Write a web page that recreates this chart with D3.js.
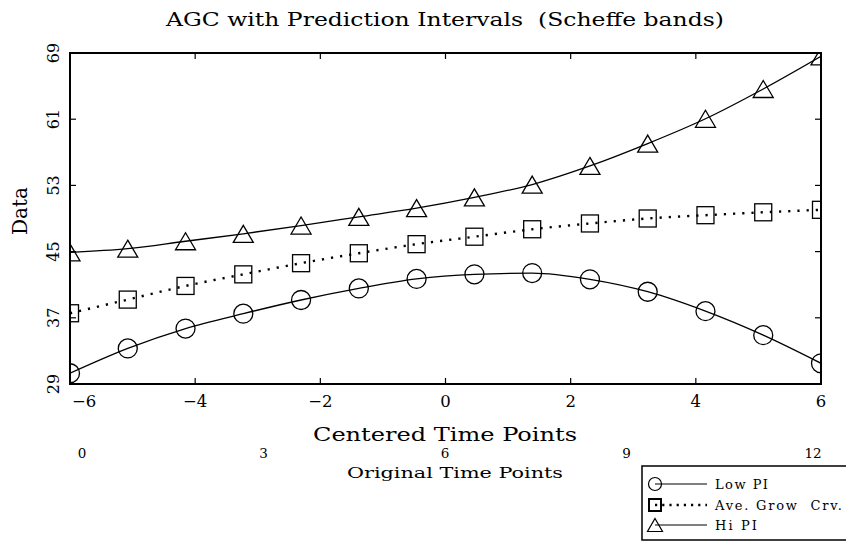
<!DOCTYPE html>
<html>
  <head>
    <script src="https://d3js.org/d3.v7.min.js"></script>
    <style>
      body { margin: 0; background: #fff; }
      text { font-family: "DejaVu Serif", serif; fill: #000; white-space: pre; }
    </style>
  </head>
  <body>
    <svg id="chart" width="846" height="543"></svg>
    <script>
      // centered time points (14 samples across -6..6)
      const centeredX = [-6, -5.077, -4.154, -3.231, -2.308, -1.385, -0.462, 0.462, 1.385, 2.308, 3.231, 4.154, 5.077, 6];
      const lowPI = [30.3, 33.3, 35.7, 37.5, 39.15, 40.55, 41.7, 42.25, 42.4, 41.65, 40.15, 37.8, 34.9, 31.5];
      const aveGrow = [37.55, 39.2, 40.85, 42.25, 43.6, 44.8, 45.9, 46.8, 47.7, 48.4, 49.0, 49.4, 49.75, 50.05];
      const hiPI = [44.9, 45.35, 46.25, 47.15, 48.15, 49.2, 50.25, 51.55, 53.1, 55.35, 58.05, 61.05, 64.65, 68.6];
      const xTicks = [-6, -4, -2, 0, 2, 4, 6];
      const yTicks = [29, 37, 45, 53, 61, 69];
      const origTicks = [0, 3, 6, 9, 12];
      const legendLabels = ["Low PI", "Ave. Grow  Crv.", "Hi PI"];

      const svg = d3.select("#chart");
      const pLeft = 70, pRight = 821, pTop = 53, pBottom = 384;

      const x = d3.scaleLinear().domain([-6, 6]).range([pLeft, pRight]);
      const y = d3.scaleLinear().domain([29, 69]).range([pBottom, pTop]);
      const xOrig = d3.scaleLinear().domain([0, 12]).range([82, 808]);

      svg.append("defs").append("clipPath").attr("id", "plotclip")
        .append("rect")
        .attr("x", pLeft).attr("y", pTop)
        .attr("width", pRight - pLeft).attr("height", pBottom - pTop);

      // title
      svg.append("text")
        .attr("x", 445).attr("y", 26)
        .attr("text-anchor", "middle")
        .attr("font-size", 19)
        .attr("textLength", 558)
        .attr("lengthAdjust", "spacingAndGlyphs")
        .text("AGC with Prediction Intervals  (Scheffe bands)");

      // ticks on all four sides, pointing inward
      const tickLen = 6;
      const ticks = svg.append("g").attr("stroke", "#000").attr("stroke-width", 1.2);
      xTicks.forEach(t => {
        ticks.append("line").attr("x1", x(t)).attr("x2", x(t)).attr("y1", pBottom).attr("y2", pBottom - tickLen);
        ticks.append("line").attr("x1", x(t)).attr("x2", x(t)).attr("y1", pTop).attr("y2", pTop + tickLen);
      });
      yTicks.forEach(t => {
        ticks.append("line").attr("x1", pLeft).attr("x2", pLeft + tickLen).attr("y1", y(t)).attr("y2", y(t));
        ticks.append("line").attr("x1", pRight).attr("x2", pRight - tickLen).attr("y1", y(t)).attr("y2", y(t));
      });

      // x tick labels
      svg.append("g").selectAll("text").data(xTicks).join("text")
        .attr("x", (d, i) => i == 0 ? x(d) + 2 : x(d))
        .attr("y", 407)
        .attr("text-anchor", (d, i) => i == 0 ? "start" : "middle")
        .attr("font-size", 16.5)
        .text(d => d < 0 ? "\u2212" + Math.abs(d) : d);

      // y tick labels, rotated
      svg.append("g").selectAll("text").data(yTicks).join("text")
        .attr("transform", d => `translate(59,${y(d)}) rotate(-90)`)
        .attr("text-anchor", "middle")
        .attr("font-size", 16)
        .text(d => d);

      svg.append("text")
        .attr("transform", "translate(27,211) rotate(-90)")
        .attr("text-anchor", "middle")
        .attr("font-size", 20)
        .text("Data");

      svg.append("text")
        .attr("x", 445).attr("y", 441)
        .attr("text-anchor", "middle")
        .attr("font-size", 18.5)
        .attr("textLength", 264)
        .attr("lengthAdjust", "spacingAndGlyphs")
        .text("Centered Time Points");

      svg.append("g").selectAll("text").data(origTicks).join("text")
        .attr("x", (d, i) => i == origTicks.length - 1 ? xOrig(d) + 5 : xOrig(d))
        .attr("y", 458)
        .attr("text-anchor", "middle")
        .attr("font-size", 13.5)
        .text(d => d);

      svg.append("text")
        .attr("x", 455).attr("y", 478)
        .attr("text-anchor", "middle")
        .attr("font-size", 15)
        .attr("textLength", 216)
        .attr("lengthAdjust", "spacingAndGlyphs")
        .text("Original Time Points");

      // series
      const plot = svg.append("g").attr("clip-path", "url(#plotclip)");
      const line = d3.line()
        .x((d, i) => x(centeredX[i]))
        .y(d => y(d))
        .curve(d3.curveMonotoneX);

      plot.append("path").datum(lowPI).attr("d", line)
        .attr("fill", "none").attr("stroke", "#000").attr("stroke-width", 1.3);
      plot.append("path").datum(hiPI).attr("d", line)
        .attr("fill", "none").attr("stroke", "#000").attr("stroke-width", 1.3);
      plot.append("path").datum(aveGrow).attr("d", line)
        .attr("fill", "none").attr("stroke", "#000").attr("stroke-width", 2.4)
        .attr("stroke-dasharray", "2.2 7");

      const tri = (cx, cy, w, h) => `M${cx},${cy - h / 2}L${cx + w / 2},${cy + h / 2}L${cx - w / 2},${cy + h / 2}Z`;

      plot.selectAll("circle.low").data(lowPI).join("circle")
        .attr("class", "low")
        .attr("cx", (d, i) => x(centeredX[i]))
        .attr("cy", d => y(d))
        .attr("r", 9.5)
        .attr("fill", "none").attr("stroke", "#000").attr("stroke-width", 1.3);

      plot.selectAll("rect.ave").data(aveGrow).join("rect")
        .attr("class", "ave")
        .attr("x", (d, i) => x(centeredX[i]) - 8.5)
        .attr("y", d => y(d) - 8.5)
        .attr("width", 17).attr("height", 17)
        .attr("fill", "none").attr("stroke", "#000").attr("stroke-width", 1.3);

      plot.selectAll("path.hi").data(hiPI).join("path")
        .attr("class", "hi")
        .attr("d", (d, i) => tri(x(centeredX[i]), y(d), 20, 17))
        .attr("fill", "none").attr("stroke", "#000").attr("stroke-width", 1.3);

      // frame
      svg.append("rect")
        .attr("x", pLeft).attr("y", pTop)
        .attr("width", pRight - pLeft).attr("height", pBottom - pTop)
        .attr("fill", "none").attr("stroke", "#000").attr("stroke-width", 2);

      // legend
      const legend = svg.append("g");
      legend.append("rect")
        .attr("x", 642).attr("y", 466).attr("width", 215).attr("height", 74)
        .attr("fill", "none").attr("stroke", "#000").attr("stroke-width", 1.5);
      const rowY = [484, 505, 525];
      const rowWidth = [53, 127, 42];
      legendLabels.forEach((label, i) => {
        const ry = rowY[i];
        const ln = legend.append("line")
          .attr("x1", 655).attr("x2", 707).attr("y1", ry).attr("y2", ry)
          .attr("stroke", "#000");
        if (i == 1) {
          ln.attr("stroke-width", 2.4).attr("stroke-dasharray", "2.2 5");
          legend.append("rect").attr("x", 649).attr("y", ry - 6).attr("width", 12).attr("height", 12)
            .attr("fill", "none").attr("stroke", "#000").attr("stroke-width", 2);
        } else if (i == 0) {
          ln.attr("stroke-width", 1.2);
          legend.append("circle").attr("cx", 655).attr("cy", ry).attr("r", 6.5)
            .attr("fill", "none").attr("stroke", "#000").attr("stroke-width", 1.2);
        } else {
          ln.attr("stroke-width", 1.2);
          legend.append("path").attr("d", tri(655, ry, 15, 13))
            .attr("fill", "none").attr("stroke", "#000").attr("stroke-width", 1.2);
        }
        legend.append("text")
          .attr("x", 715).attr("y", ry + 4.5)
          .attr("font-size", 13)
          .attr("textLength", rowWidth[i])
          .attr("lengthAdjust", "spacing")
          .text(label);
      });
    </script>
  </body>
</html>
